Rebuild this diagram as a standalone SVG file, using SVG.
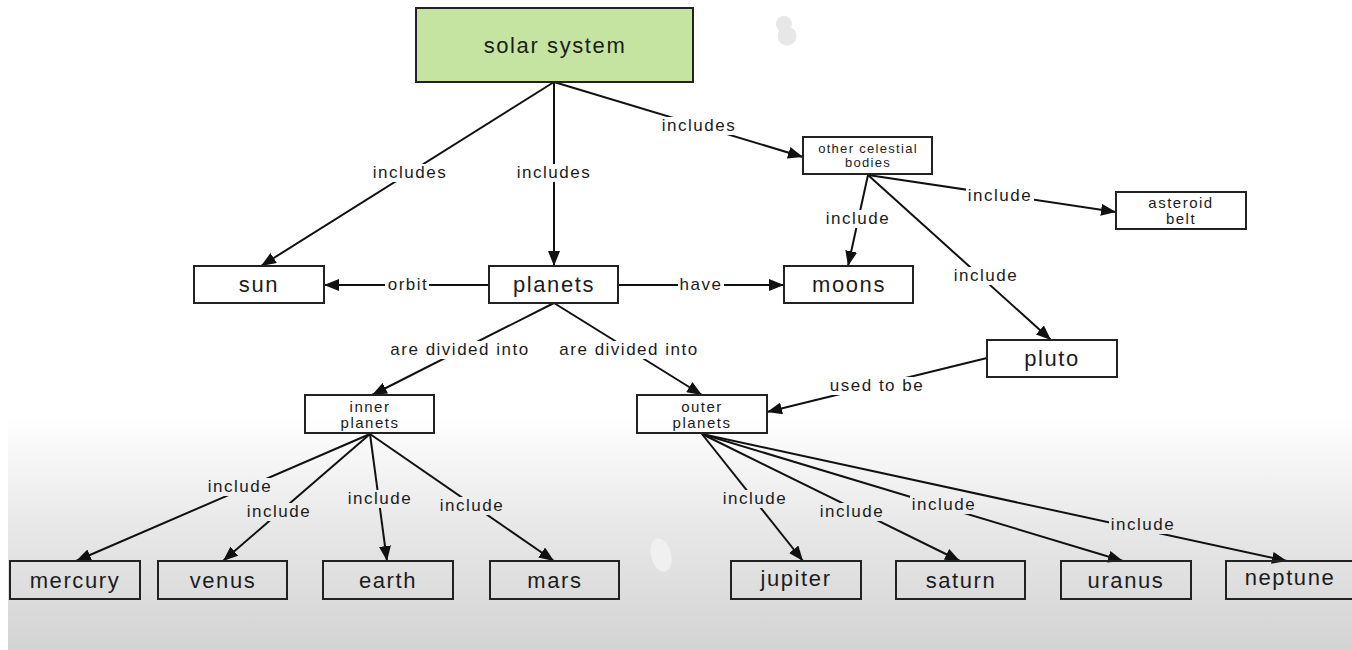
<svg xmlns="http://www.w3.org/2000/svg" width="1352" height="650" viewBox="0 0 1352 650">
<defs>
<linearGradient id="bg" gradientUnits="userSpaceOnUse" x1="0" y1="415" x2="0" y2="650">
<stop offset="0" stop-color="#ffffff"/>
<stop offset="0.45" stop-color="#e9e9e9"/>
<stop offset="1" stop-color="#d3d3d3"/>
</linearGradient>
<marker id="arr" markerUnits="userSpaceOnUse" markerWidth="16" markerHeight="12" refX="15" refY="6" orient="auto">
<path d="M0,0 L15,6 L0,12 z" fill="#111"/>
</marker>
<style>
text{font-family:"Liberation Sans",Arial,sans-serif;fill:#1c1c1c;text-anchor:middle}
.box{fill:none;stroke:#222;stroke-width:2}
.big{font-size:22px;letter-spacing:1.6px}
.sm{font-size:15px;letter-spacing:1.5px}
.xs{font-size:13px;letter-spacing:1.3px}
.lbl{font-size:17px;letter-spacing:1.5px}
.edge{stroke:#111;stroke-width:2;fill:none;marker-end:url(#arr)}
.lb{fill:url(#bg)}
</style>
</defs>
<rect x="0" y="0" width="1352" height="650" fill="#ffffff"/>
<rect x="8" y="415" width="1344" height="235" fill="url(#bg)"/>
<g id="artifacts">
<circle cx="784" cy="24" r="8" fill="#e7e7e7"/>
<circle cx="787" cy="36" r="9.5" fill="#e7e7e7"/>
<ellipse cx="661" cy="555" rx="10" ry="17" transform="rotate(-15 661 555)" fill="#f0f0f0"/>
</g>
<g id="connectors">
<line class="edge" x1="554" y1="82" x2="261" y2="266"/>
<line class="edge" x1="554" y1="82" x2="554" y2="266"/>
<line class="edge" x1="554" y1="82" x2="803" y2="157"/>
<line class="edge" x1="868" y1="175" x2="848" y2="266"/>
<line class="edge" x1="868" y1="175" x2="1116" y2="212"/>
<line class="edge" x1="868" y1="175" x2="1051" y2="340"/>
<line class="edge" x1="489" y1="285" x2="324" y2="285"/>
<line class="edge" x1="618" y1="285" x2="784" y2="285"/>
<line class="edge" x1="554" y1="303" x2="372" y2="395"/>
<line class="edge" x1="554" y1="303" x2="702" y2="395"/>
<line class="edge" x1="987" y1="358" x2="767" y2="412"/>
<line class="edge" x1="370" y1="434" x2="76" y2="561"/>
<line class="edge" x1="370" y1="434" x2="223" y2="561"/>
<line class="edge" x1="370" y1="434" x2="387" y2="561"/>
<line class="edge" x1="370" y1="434" x2="554" y2="561"/>
<line class="edge" x1="702" y1="434" x2="803" y2="561"/>
<line class="edge" x1="702" y1="434" x2="960" y2="561"/>
<line class="edge" x1="702" y1="434" x2="1123" y2="561"/>
<line class="edge" x1="702" y1="434" x2="1287" y2="561"/>
<rect class="lb" x="371" y="164" width="78" height="18"/><text class="lbl" x="410" y="178">includes</text>
<rect class="lb" x="515" y="164" width="78" height="18"/><text class="lbl" x="554" y="178">includes</text>
<rect class="lb" x="660" y="117" width="78" height="18"/><text class="lbl" x="699" y="131">includes</text>
<rect class="lb" x="824" y="210" width="68" height="18"/><text class="lbl" x="858" y="224">include</text>
<rect class="lb" x="966" y="187" width="68" height="18"/><text class="lbl" x="1000" y="201">include</text>
<rect class="lb" x="952" y="267" width="68" height="18"/><text class="lbl" x="986" y="281">include</text>
<rect class="lb" x="385" y="276" width="44" height="18"/><text class="lbl" x="408" y="290">orbit</text>
<rect class="lb" x="678" y="276" width="46" height="18"/><text class="lbl" x="701" y="290">have</text>
<rect class="lb" x="389" y="341" width="142" height="18"/><text class="lbl" x="460" y="355">are divided into</text>
<rect class="lb" x="558" y="341" width="142" height="18"/><text class="lbl" x="629" y="355">are divided into</text>
<rect class="lb" x="828" y="377" width="98" height="18"/><text class="lbl" x="877" y="391">used to be</text>
<rect class="lb" x="206" y="478" width="68" height="18"/><text class="lbl" x="240" y="492">include</text>
<rect class="lb" x="245" y="503" width="68" height="18"/><text class="lbl" x="279" y="517">include</text>
<rect class="lb" x="346" y="490" width="68" height="18"/><text class="lbl" x="380" y="504">include</text>
<rect class="lb" x="438" y="497" width="68" height="18"/><text class="lbl" x="472" y="511">include</text>
<rect class="lb" x="721" y="490" width="68" height="18"/><text class="lbl" x="755" y="504">include</text>
<rect class="lb" x="818" y="503" width="68" height="18"/><text class="lbl" x="852" y="517">include</text>
<rect class="lb" x="910" y="496" width="68" height="18"/><text class="lbl" x="944" y="510">include</text>
<rect class="lb" x="1109" y="516" width="68" height="18"/><text class="lbl" x="1143" y="530">include</text>
</g>
<g id="solar-system"><rect x="416" y="8" width="277" height="74" fill="#c5e4a1" stroke="#222" stroke-width="2"/><text class="big" x="555" y="53">solar system</text></g>
<g id="other-celestial-bodies"><rect class="box" x="803" y="137" width="129" height="37"/><text class="xs" x="868" y="153">other celestial</text><text class="xs" x="868" y="167">bodies</text></g>
<g id="asteroid-belt"><rect class="box" x="1116" y="192" width="130" height="37"/><text class="sm" x="1181" y="208">asteroid</text><text class="sm" x="1181" y="224">belt</text></g>
<g id="sun"><rect class="box" x="194" y="266" width="130" height="37"/><text class="big" x="259" y="292">sun</text></g>
<g id="planets"><rect class="box" x="489" y="266" width="129" height="37"/><text class="big" x="554" y="292">planets</text></g>
<g id="moons"><rect class="box" x="784" y="266" width="129" height="37"/><text class="big" x="849" y="292">moons</text></g>
<g id="pluto"><rect class="box" x="987" y="340" width="130" height="37"/><text class="big" x="1052" y="366">pluto</text></g>
<g id="inner-planets"><rect class="box" x="305" y="395" width="129" height="38"/><text class="sm" x="370" y="412">inner</text><text class="sm" x="370" y="428">planets</text></g>
<g id="outer-planets"><rect class="box" x="637" y="395" width="130" height="38"/><text class="sm" x="702" y="412">outer</text><text class="sm" x="702" y="428">planets</text></g>
<g id="mercury"><rect class="box" x="10" y="561" width="130" height="38"/><text class="big" x="75" y="588">mercury</text></g>
<g id="venus"><rect class="box" x="158" y="561" width="129" height="38"/><text class="big" x="223" y="588">venus</text></g>
<g id="earth"><rect class="box" x="323" y="561" width="130" height="38"/><text class="big" x="388" y="588">earth</text></g>
<g id="mars"><rect class="box" x="490" y="561" width="129" height="38"/><text class="big" x="555" y="588">mars</text></g>
<g id="jupiter"><rect class="box" x="731" y="561" width="130" height="38"/><text class="big" x="796" y="586">jupiter</text></g>
<g id="saturn"><rect class="box" x="896" y="561" width="129" height="38"/><text class="big" x="961" y="588">saturn</text></g>
<g id="uranus"><rect class="box" x="1061" y="561" width="130" height="38"/><text class="big" x="1126" y="588">uranus</text></g>
<g id="neptune"><rect class="box" x="1226" y="561" width="130" height="38"/><text class="big" x="1290" y="585">neptune</text></g>
</svg>
